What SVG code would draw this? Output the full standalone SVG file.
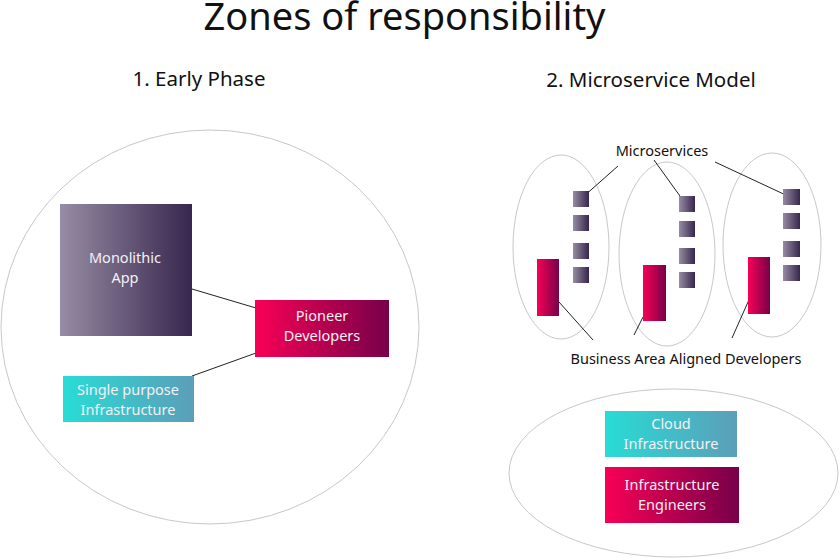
<svg xmlns="http://www.w3.org/2000/svg" width="839" height="558" viewBox="0 0 839 558">
<style>
text{font-family:"Noto Sans","Liberation Sans",sans-serif;}
.t{fill:#111;}
.w{fill:#f4f0f4;font-size:14.5px;text-anchor:middle;}
.lbl{fill:#111;font-size:14.5px;text-anchor:middle;}
.zone{fill:none;stroke:#c8c8c8;stroke-width:1;}
.con line{stroke:#222;stroke-width:1;}
</style>
<defs>
<linearGradient id="gp" x1="0" y1="0" x2="1" y2="0"><stop offset="0" stop-color="#978ca3"/><stop offset="1" stop-color="#37264e"/></linearGradient>
<linearGradient id="gr" x1="0" y1="0" x2="1" y2="0"><stop offset="0" stop-color="#f80056"/><stop offset="1" stop-color="#770049"/></linearGradient>
<linearGradient id="gc" x1="0" y1="0" x2="1" y2="0"><stop offset="0" stop-color="#28dcd6"/><stop offset="1" stop-color="#5c9eb8"/></linearGradient>
</defs>
<rect width="839" height="558" fill="#fff"/>
<text class="t" x="404.5" y="30" font-size="38" text-anchor="middle">Zones of responsibility</text>
<text class="t" x="199" y="86" font-size="20.5" text-anchor="middle">1. Early Phase</text>
<text class="t" x="651" y="87" font-size="20.5" text-anchor="middle">2. Microservice Model</text>

<g id="zones">
<ellipse class="zone" cx="210" cy="327" rx="209" ry="197"/>
<ellipse class="zone" cx="561" cy="247" rx="48" ry="92"/>
<ellipse class="zone" cx="667" cy="254" rx="48" ry="92"/>
<ellipse class="zone" cx="772" cy="245" rx="49" ry="92"/>
<ellipse class="zone" cx="673.5" cy="473" rx="164.5" ry="84"/>
</g>

<g class="con" id="connectors">
<line x1="192" y1="289" x2="256" y2="308"/>
<line x1="192" y1="376" x2="256" y2="353"/>
<line x1="618" y1="166" x2="583" y2="197"/>
<line x1="654" y1="160" x2="685" y2="203"/>
<line x1="715" y1="162" x2="790" y2="197"/>
<line x1="559" y1="302" x2="593" y2="340"/>
<line x1="643" y1="317" x2="634" y2="335"/>
<line x1="756" y1="284" x2="732" y2="338"/>
</g>

<g id="monolithic">
<rect x="60" y="204" width="132" height="132" fill="url(#gp)"/>
<text class="w" x="125" y="263">Monolithic</text>
<text class="w" x="125" y="283">App</text>
</g>
<g id="pioneer">
<rect x="255" y="300" width="134" height="57" fill="url(#gr)"/>
<text class="w" x="322" y="321">Pioneer</text>
<text class="w" x="322" y="341">Developers</text>
</g>
<g id="single-infra">
<rect x="63" y="376" width="131" height="46" fill="url(#gc)"/>
<text class="w" x="128" y="395">Single purpose</text>
<text class="w" x="128" y="415">Infrastructure</text>
</g>

<g id="microservices-1">
<rect x="573" y="191" width="16" height="16" fill="url(#gp)"/>
<rect x="573" y="215" width="16" height="16" fill="url(#gp)"/>
<rect x="573" y="243" width="16" height="16" fill="url(#gp)"/>
<rect x="573" y="267" width="16" height="16" fill="url(#gp)"/>
</g>
<g id="microservices-2">
<rect x="679" y="196" width="16" height="16" fill="url(#gp)"/>
<rect x="679" y="221" width="16" height="16" fill="url(#gp)"/>
<rect x="679" y="248" width="16" height="16" fill="url(#gp)"/>
<rect x="679" y="272" width="16" height="16" fill="url(#gp)"/>
</g>
<g id="microservices-3">
<rect x="783" y="189" width="17" height="16" fill="url(#gp)"/>
<rect x="783" y="213" width="17" height="16" fill="url(#gp)"/>
<rect x="783" y="241" width="17" height="16" fill="url(#gp)"/>
<rect x="783" y="265" width="17" height="16" fill="url(#gp)"/>
</g>
<g id="developers-1"><rect x="537" y="259" width="22" height="57" fill="url(#gr)"/></g>
<g id="developers-2"><rect x="643" y="265" width="23" height="56" fill="url(#gr)"/></g>
<g id="developers-3"><rect x="748" y="257" width="22" height="57" fill="url(#gr)"/></g>

<g id="label-microservices"><text class="lbl" x="662" y="156">Microservices</text></g>
<g id="label-business"><text class="lbl" x="686" y="364">Business Area Aligned Developers</text></g>

<g id="cloud-infra">
<rect x="605" y="411" width="132" height="46" fill="url(#gc)"/>
<text class="w" x="671" y="429">Cloud</text>
<text class="w" x="671" y="449">Infrastructure</text>
</g>
<g id="infra-engineers">
<rect x="605" y="467" width="134" height="56" fill="url(#gr)"/>
<text class="w" x="672" y="490">Infrastructure</text>
<text class="w" x="672" y="510">Engineers</text>
</g>
</svg>
